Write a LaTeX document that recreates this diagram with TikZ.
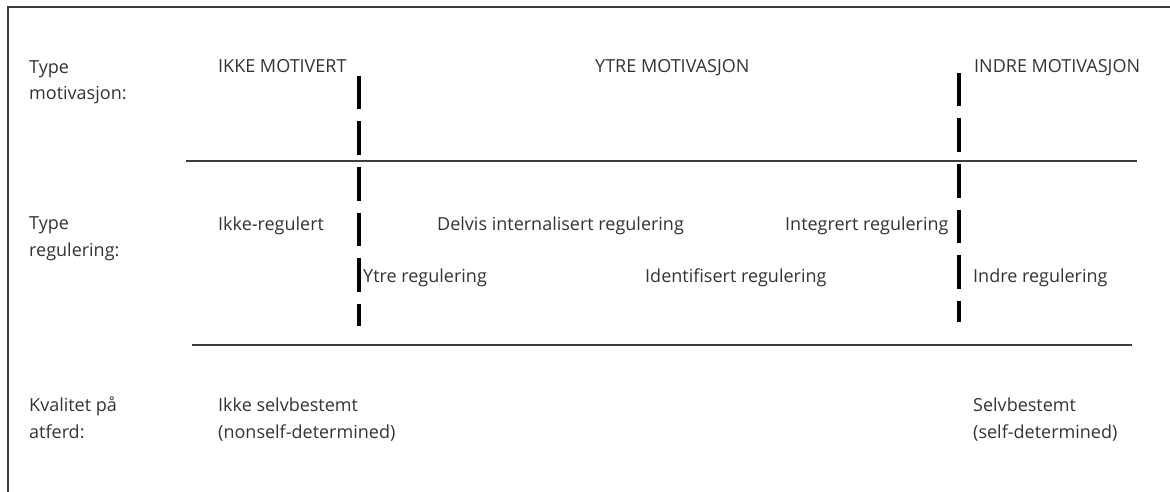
\documentclass[tikz,border=0pt]{standalone}
\usepackage{fontspec}
\setmainfont{Open Sans}
\definecolor{txtgray}{HTML}{333333}
\definecolor{rulegray}{HTML}{3C3C3C}

\begin{document}
\begin{tikzpicture}[x=1pt, y=-1pt,
    lbl/.style={anchor=base west, inner sep=0pt, text=txtgray, align=left,
                font=\fontsize{18}{26.5}\selectfont},
    rule/.style={line width=1.2pt, draw=rulegray},
    divider/.style={line width=4pt, dash pattern=on 33.5pt off 12pt}]
  \useasboundingbox (0,0) rectangle (1170,492);
  \draw[rule] (8,500) -- (8,7) -- (1180,7);

  \coordinate (r1w) at (186,161);
  \coordinate (r1e) at (1137,161);
  \coordinate (r2w) at (192,345);
  \coordinate (r2e) at (1132,345);
  \coordinate (d1t) at (359,76);
  \coordinate (d1b) at (359,326);
  \coordinate (d2t) at (959,73);
  \coordinate (d2b) at (959,322);

  % row 1 (two-line labels sit on their last line)
  \node[lbl] (motType) at (29,100) {Type\\motivasjon:};
  \node[lbl] (ikkeMot) at (218,73) {IKKE MOTIVERT};
  \node[lbl] (ytreMot) at (595,73) {YTRE MOTIVASJON};
  \node[lbl] (indreMot) at (974,73) {INDRE MOTIVASJON};

  % row 2
  \node[lbl] (regType) at (29,256) {Type\\regulering:};
  \node[lbl] (ikkeReg) at (218,230) {Ikke-regulert};
  \node[lbl] (delvisReg) at (437,230) {Delvis internalisert regulering};
  \node[lbl] (integrReg) at (785,230) {Integrert regulering};
  \node[lbl] (ytreReg) at (363,282) {Ytre regulering};
  \node[lbl] (identReg) at (645,282) {Identifisert regulering};
  \node[lbl] (indreReg) at (973,282) {Indre regulering};

  % row 3
  \node[lbl] (kvalType) at (29,438) {Kvalitet på\\atferd:};
  \node[lbl] (ikkeSelv) at (218,438) {Ikke selvbestemt\\(nonself-determined)};
  \node[lbl] (selv) at (973,438) {Selvbestemt\\(self-determined)};

  \begin{scope}[rule]
    \draw (r1w) -- (r1e);
    \draw (r2w) -- (r2e);
  \end{scope}
  \draw[divider] (d1t) -- (d1b);
  \draw[divider] (d2t) -- (d2b);
\end{tikzpicture}
\end{document}
